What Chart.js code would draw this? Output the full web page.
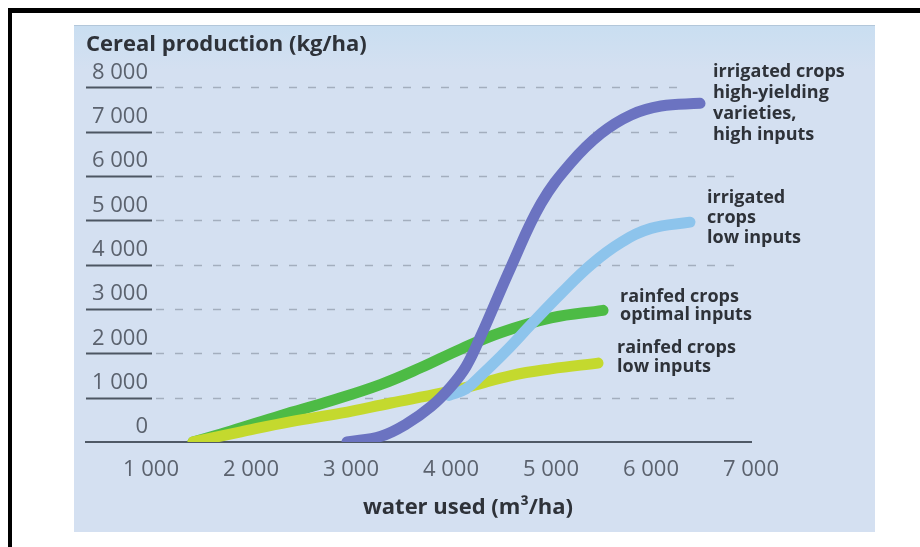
<!DOCTYPE html>
<html lang="en">
<head>
<meta charset="utf-8">
<title>Cereal production and water used</title>
<script src="https://cdn.jsdelivr.net/npm/chart.js@4.4.0/dist/chart.umd.min.js"></script>
<style>
    html, body { margin: 0; padding: 0; background: #fff; overflow: hidden; }
    body { width: 920px; height: 547px; position: relative; }
    .frame {
        position: absolute; left: 8px; top: 8px; width: 960px; height: 600px;
        border-top: 5px solid #000; border-left: 4px solid #000;
    }
    .panel {
        position: absolute; left: 74px; top: 25px; width: 801px; height: 507px;
        background: linear-gradient(#c9def1 0, #d4e0f1 45px);
        box-shadow: inset 0 1px 0 #b3c7da;
    }
    .panel canvas { position: absolute; left: 0; top: 0; }
</style>
</head>
<body>
<div class="frame"></div>
<div class="panel"><canvas id="waterChart" width="801" height="507"></canvas></div>

<script>
// Axis ticks
const xTicks = [1000, 2000, 3000, 4000, 5000, 6000, 7000];
const xTickLabels = ['1 000', '2 000', '3 000', '4 000', '5 000', '6 000', '7 000'];
const yTicks = [0, 1000, 2000, 3000, 4000, 5000, 6000, 7000, 8000];
const yTickLabels = ['0', '1 000', '2 000', '3 000', '4 000', '5 000', '6 000', '7 000', '8 000'];

// Water used (m3/ha) -> cereal production (kg/ha)
const highInputsWater = [2960, 3300, 3550, 3800, 4000, 4150, 4300, 4600, 4900, 5200, 5500, 5800, 6100, 6490];
const highInputsYield = [0, 130, 400, 800, 1250, 1700, 2400, 3950, 5380, 6300, 6960, 7380, 7580, 7640];

const lowInputsWater = [3980, 4150, 4300, 4550, 4800, 5100, 5400, 5700, 6000, 6390];
const lowInputsYield = [1050, 1200, 1500, 2050, 2650, 3350, 4000, 4500, 4820, 4960];

const rainfedLowWater = [1420, 1900, 2400, 2900, 3400, 3900, 4200, 4600, 5000, 5470];
const rainfedLowYield = [0, 230, 460, 650, 880, 1100, 1260, 1500, 1650, 1780];

const rainfedOptimalWater = [1420, 1800, 2300, 2800, 3300, 3700, 4100, 4500, 5000, 5520];
const rainfedOptimalYield = [0, 250, 600, 930, 1300, 1680, 2100, 2470, 2800, 2970];

// Curve labels (one entry per text line)
const highInputsLabel = ['irrigated crops', 'high-yielding', 'varieties,', 'high inputs'];
const lowInputsLabel = ['irrigated', 'crops', 'low inputs'];
const rainfedLowLabel = ['rainfed crops', 'low inputs'];
const rainfedOptimalLabel = ['rainfed crops', 'optimal inputs'];

// Styles
const FONT = "'Open Sans', sans-serif";
const TICK_COLOR = '#5b626e';
const TEXT_COLOR = '#2e3239';
// where each dashed gridline stops, in water units
const gridStops = { 1000: 6860, 2000: 5320, 3000: 4750, 4000: 6860, 5000: 5890, 6000: 6860, 7000: 6290, 8000: 6290 };

document.addEventListener('DOMContentLoaded', function () {
    initializeWaterChart();
});

/**
 * Builds {x, y} points from two parallel arrays
 */
function toPoints(xs, ys) {
    return xs.map((x, i) => ({ x: x, y: ys[i] }));
}

/**
 * Underlined tick labels and dashed gridlines
 */
const gridPlugin = {
    id: 'dashedGrid',
    beforeDatasetsDraw(chart) {
        const { ctx, chartArea, scales } = chart;
        ctx.save();
        yTicks.forEach(v => {
            if (v === 0) return;
            const y = Math.round(scales.y.getPixelForValue(v)) + 0.5;
            ctx.setLineDash([]);
            ctx.strokeStyle = '#4c5663';
            ctx.lineWidth = 2;
            ctx.beginPath();
            ctx.moveTo(chartArea.left, y);
            ctx.lineTo(chartArea.left + 66, y);
            ctx.stroke();

            ctx.setLineDash([8, 11]);
            ctx.strokeStyle = '#a3aebe';
            ctx.lineWidth = 1.5;
            ctx.beginPath();
            ctx.moveTo(chartArea.left + 70, y);
            ctx.lineTo(scales.x.getPixelForValue(gridStops[v]), y);
            ctx.stroke();
        });
        ctx.restore();
    }
};

/**
 * Multi-line labels next to the end of each curve, and the x axis title
 */
const labelPlugin = {
    id: 'curveLabels',
    afterDatasetsDraw(chart) {
        const { ctx, chartArea } = chart;
        ctx.save();
        ctx.fillStyle = TEXT_COLOR;
        ctx.font = 'bold 18px ' + FONT;
        ctx.textAlign = 'left';
        ctx.textBaseline = 'alphabetic';
        chart.data.datasets.forEach((ds, i) => {
            const meta = chart.getDatasetMeta(i);
            const end = meta.data[meta.data.length - 1];
            ds.endLabel.forEach((line, k) => {
                ctx.fillText(line, end.x + ds.labelDx, end.y + ds.labelDy + k * ds.labelLine);
            });
        });

        // x axis title
        ctx.font = 'bold 22px ' + FONT;
        ctx.textAlign = 'center';
        ctx.textBaseline = 'middle';
        ctx.fillText('water used (m³/ha)', chartArea.left + 382, chartArea.bottom + 66);
        ctx.restore();
    }
};

/**
 * Initialise le graphique
 */
function initializeWaterChart() {
    const ctx = document.getElementById('waterChart').getContext('2d');
    const line = {
        borderWidth: 11,
        pointRadius: 0,
        borderCapStyle: 'round',
        borderJoinStyle: 'round',
        tension: 0.4,
        fill: false
    };

    new Chart(ctx, {
        type: 'line',
        data: {
            datasets: [{
                ...line,
                label: 'irrigated crops, high-yielding varieties, high inputs',
                data: toPoints(highInputsWater, highInputsYield),
                borderColor: '#6b73c1',
                endLabel: highInputsLabel, labelDx: 13, labelDy: -26, labelLine: 21
            }, {
                ...line,
                label: 'irrigated crops, low inputs',
                data: toPoints(lowInputsWater, lowInputsYield),
                borderColor: '#8dc4ec',
                endLabel: lowInputsLabel, labelDx: 17, labelDy: -19, labelLine: 20
            }, {
                ...line,
                label: 'rainfed crops, low inputs',
                data: toPoints(rainfedLowWater, rainfedLowYield),
                borderColor: '#c4d92e',
                endLabel: rainfedLowLabel, labelDx: 19, labelDy: -10, labelLine: 19
            }, {
                ...line,
                label: 'rainfed crops, optimal inputs',
                data: toPoints(rainfedOptimalWater, rainfedOptimalYield),
                borderColor: '#4dbb45',
                endLabel: rainfedOptimalLabel, labelDx: 17, labelDy: -8, labelLine: 18
            }]
        },
        options: {
            responsive: false,
            animation: false,
            devicePixelRatio: 1,
            events: [],
            layout: {
                padding: { left: 12, right: 124, top: 0, bottom: 0 }
            },
            plugins: {
                legend: { display: false },
                tooltip: { enabled: false },
                title: {
                    display: true,
                    text: 'Cereal production (kg/ha)',
                    align: 'start',
                    color: TEXT_COLOR,
                    font: { family: FONT, size: 22, weight: 'bold' },
                    padding: { top: 7, bottom: 29 }
                }
            },
            scales: {
                x: {
                    type: 'linear',
                    min: 350,
                    max: 7000,
                    afterBuildTicks: axis => { axis.ticks = xTicks.map(v => ({ value: v })); },
                    afterFit: axis => { axis.height = 90; },
                    grid: { display: false, drawTicks: false },
                    border: { display: true, color: '#4f5966', width: 2 },
                    ticks: {
                        autoSkip: false,
                        maxRotation: 0,
                        padding: 15,
                        color: TICK_COLOR,
                        font: { family: FONT, size: 22 },
                        callback: (value, index) => xTickLabels[index]
                    }
                },
                y: {
                    min: 0,
                    max: 8000,
                    afterBuildTicks: axis => { axis.ticks = yTicks.map(v => ({ value: v })); },
                    afterFit: axis => { axis.width = 0; },
                    grid: { display: false, drawTicks: false },
                    border: { display: false },
                    ticks: {
                        autoSkip: false,
                        mirror: true,
                        crossAlign: 'far',
                        padding: 6,
                        labelOffset: -15,
                        color: TICK_COLOR,
                        font: { family: FONT, size: 22 },
                        callback: (value, index) => yTickLabels[index]
                    }
                }
            }
        },
        plugins: [gridPlugin, labelPlugin]
    });
}
</script>
</body>
</html>
